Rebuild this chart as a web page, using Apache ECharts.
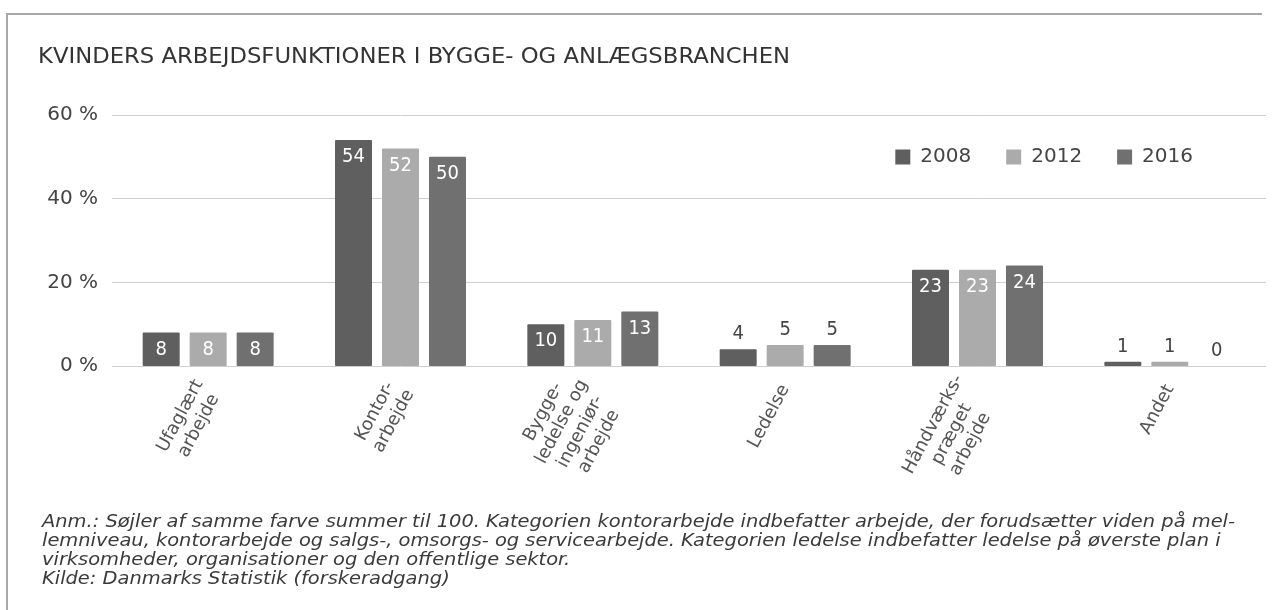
<!DOCTYPE html>
<html>
<head>
<meta charset="utf-8">
<script src="https://cdn.jsdelivr.net/npm/echarts@6/dist/echarts.min.js"></script>
<style>
  html, body { margin: 0; padding: 0; background: #fff; }
  #chart { width: 1282px; height: 610px; }
</style>
</head>
<body>
<div id="chart"></div>
<script>
const categories = [
  'Ufaglært\narbejde',
  'Kontor-\narbejde',
  'Bygge-\nledelse og\ningeniør-\narbejde',
  'Ledelse',
  'Håndværks-\npræget\narbejde',
  'Andet'
]
const years = ['2008', '2012', '2016']
const values2008 = [8, 54, 10, 4, 23, 1]
const values2012 = [8, 52, 11, 5, 23, 1]
const values2016 = [8, 50, 13, 5, 24, 0]
const yTicks = [0, 20, 40, 60]
const colors = ['#5f5f5f', '#ababab', '#707070']
const titleText = 'KVINDERS ARBEJDSFUNKTIONER I BYGGE- OG ANLÆGSBRANCHEN'
const noteLines = [
  'Anm.: Søjler af samme farve summer til 100. Kategorien kontorarbejde indbefatter arbejde, der forudsætter viden på mel-',
  'lemniveau, kontorarbejde og salgs-, omsorgs- og servicearbejde. Kategorien ledelse indbefatter ledelse på øverste plan i',
  'virksomheder, organisationer og den offentlige sektor.',
  'Kilde: Danmarks Statistik (forskeradgang)'
]

// the original typefaces are narrower/wider than ours, so fit text to the same width
const measure = function (text, font) {
  const ctx = document.createElement('canvas').getContext('2d')
  ctx.font = font
  return ctx.measureText(text).width
}
const titleFont = '21px "DejaVu Sans Condensed"'
const noteFont = 'italic 17px "DejaVu Sans Condensed"'
const titleScale = 752 / measure(titleText, titleFont)
const noteScale = 1193 / measure(noteLines[0], noteFont)

// small bars get their label above the bar in grey
const toItems = function (arr) {
  return arr.map(v => v < 6
    ? { value: v, label: { position: 'top', color: '#444', distance: 5 } }
    : v)
}

const makeSeries = function (name, arr, i) {
  return {
    name: name,
    type: 'bar',
    barWidth: 37,
    barGap: '27%',
    itemStyle: { color: colors[i], borderRadius: 1 },
    label: {
      show: true,
      position: 'insideTop',
      distance: 7,
      color: '#fff',
      fontSize: 20,
      fontFamily: 'DejaVu Sans Condensed'
    },
    data: toItems(arr)
  }
}

const chartDom = document.getElementById('chart')
const chartInstance = echarts.init(chartDom)

const option = {
  backgroundColor: '#fff',
  animation: false,
  legend: {
    data: years,
    right: 84,
    top: 142,
    itemWidth: 15,
    itemHeight: 15,
    itemGap: 35,
    icon: 'rect',
    textStyle: {
      color: '#444',
      fontSize: 20,
      fontFamily: 'DejaVu Sans',
      padding: [0, 0, 0, 5]
    }
  },
  grid: {
    top: 115,
    left: 112,
    right: 16,
    bottom: 244
  },
  xAxis: {
    type: 'category',
    data: categories,
    axisLine: { show: false },
    axisTick: { show: false },
    axisLabel: {
      rotate: 62,
      margin: 20,
      formatter: function (v) {
        return v.split('\n').map(s => '{c|' + s + '}').join('\n')
      },
      rich: {
        c: {
          align: 'center',
          color: '#555',
          fontSize: 18,
          lineHeight: 21,
          fontFamily: 'DejaVu Sans'
        }
      }
    }
  },
  yAxis: {
    type: 'value',
    min: yTicks[0],
    max: yTicks[yTicks.length - 1],
    interval: 20,
    axisLine: { show: false },
    axisTick: { show: false },
    splitLine: { lineStyle: { color: '#cfcfcf', width: 1 } },
    axisLabel: {
      margin: 14,
      color: '#444',
      fontSize: 20,
      fontFamily: 'DejaVu Sans',
      formatter: v => v + ' %'
    }
  },
  graphic: [
    {
      type: 'polyline',
      shape: { points: [[7, 620], [7, 14], [1262, 14]] },
      style: { stroke: '#a8a8a8', lineWidth: 2, fill: null }
    },
    {
      type: 'text',
      x: 38,
      y: 58,
      scaleX: titleScale,
      style: {
        text: titleText,
        fill: '#333',
        font: titleFont,
        verticalAlign: 'middle'
      }
    },
    {
      type: 'text',
      x: 42,
      y: 513,
      scaleX: noteScale,
      style: {
        text: noteLines.join('\n'),
        fill: '#3a3a3a',
        font: noteFont,
        lineHeight: 19
      }
    }
  ],
  series: [
    makeSeries(years[0], values2008, 0),
    makeSeries(years[1], values2012, 1),
    makeSeries(years[2], values2016, 2)
  ]
}

option && chartInstance.setOption(option)
</script>
</body>
</html>
